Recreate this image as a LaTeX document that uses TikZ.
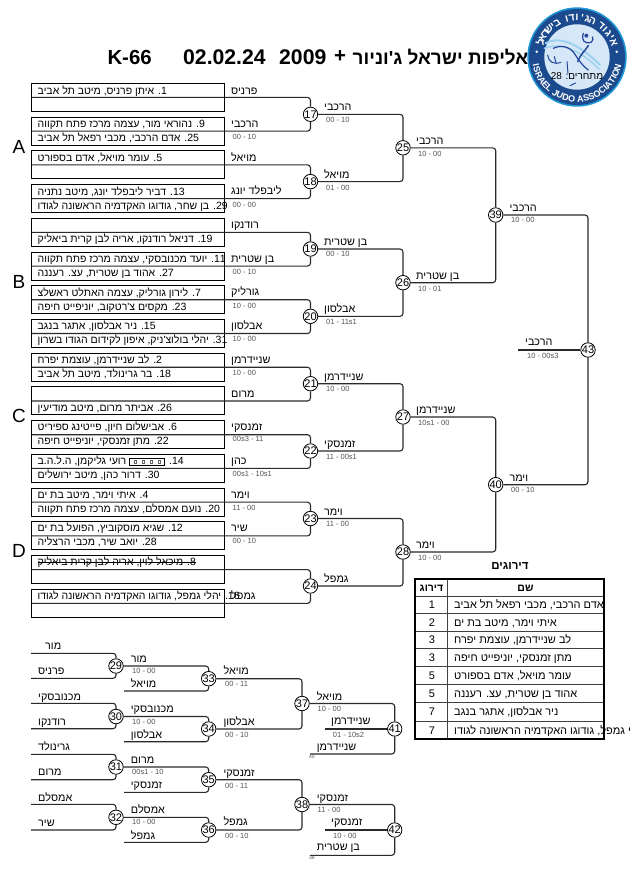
\documentclass[tikz,border=0pt]{standalone}
\usepackage{fontspec}
\setmainfont{Liberation Sans}
\newfontfamily\heb[Script=Hebrew]{Liberation Sans}
\TeXXeTstate=1
\usetikzlibrary{decorations.text}
\definecolor{navy}{HTML}{1B4A8E}
\definecolor{rim}{HTML}{1E96D6}
\definecolor{disc}{HTML}{D6E8F7}
\definecolor{swoosh}{HTML}{9CD2EE}
\definecolor{fig}{HTML}{23459A}
\definecolor{wire}{HTML}{2A2A2A}
\definecolor{scoregray}{HTML}{555555}
\tikzset{
  nm/.style={anchor=west,inner sep=0pt,font=\fontsize{10.8}{11}\selectfont\heb,text height=8pt,text depth=2pt,yshift=-0.6pt},
  seedtxt/.style={nm,font=\fontsize{10.5}{11}\selectfont\heb},
  tabtxt/.style={nm,font=\fontsize{11}{11}\selectfont\heb},
  sc/.style={anchor=west,inner sep=0pt,font=\fontsize{7.5}{8}\selectfont,text=scoregray,text height=6pt,text depth=1pt},
  tiny/.style={anchor=west,inner sep=0pt,font=\fontsize{5}{5}\selectfont,text=scoregray},
  seedbox/.style={draw=black,line width=1pt,fill=none},
  wirel/.style={draw=wire,line width=1.1pt,rounded corners=3pt},
  wireplain/.style={draw=wire,line width=1.3pt},
  mt/.style={circle,draw=black,line width=0.8pt,fill=white,minimum size=14pt,inner sep=0pt,font=\fontsize{11}{11}\selectfont},
  pool/.style={inner sep=0pt,font=\fontsize{19}{19}\selectfont},
  ttl/.style={anchor=west,inner sep=0pt,font=\fontsize{20.4}{21}\selectfont\bfseries},
  ttlnum/.style={ttl,font=\fontsize{21.2}{22}\selectfont\bfseries},
  ttlheb/.style={ttl,font=\fontsize{18.9}{21}\selectfont\bfseries\heb},
  tabrule/.style={draw=black!75,line width=1pt},
  taboutline/.style={draw=black,line width=2pt},
  logoletter/.style={inner sep=0pt,text=white,font=\fontsize{10.5}{10.5}\selectfont\heb\bfseries},
}
\newcommand{\nm}[4]{\node[nm] (#1) at (#2,#3) {#4};}
\newcommand{\sn}[3]{\node[seedtxt] (#1) at (37.5,#2) {#3};}
\newcommand{\tn}[3]{\node[tabtxt] (#1) at (454,#2) {#3};}
\newcommand{\scr}[4]{\node[sc] (#1) at (#2,#3) {#4};}
\begin{document}
\begin{tikzpicture}[x=1pt,y=-1pt]
\useasboundingbox (0,0) rectangle (630,891);
\clip (0,0) rectangle (630,891);
\fill[white] (0,0) rectangle (630,891);

% title
\node[ttl] (t1) at (107.3,57) {K-66};
\node[ttlnum] (t2) at (183,57) {02.02.24};
\node[ttlnum] (t3) at (279,57) {2009};
\node[ttl] (t4) at (334,57) {+};
\node[ttlheb] (t5) at (352.5,57) {\beginR אליפות ישראל ג'וניור\endR};

% logo
\fill[rim] (577,57) circle (49.7);
\fill[navy] (577,57) circle (48);
\fill[disc] (577,57) circle (32.7);
\begin{scope}[shift={(525,5)},x=0.3333pt,y=-0.3333pt]
  \draw[swoosh,line width=2pt,line cap=round] (62,115) .. controls (105,90) and (165,120) .. (225,180);
  \draw[swoosh,line width=1.5pt,line cap=round] (58,130) .. controls (110,110) and (170,140) .. (222,192);
  \draw[fig,line width=1.2pt,line cap=round] (85,130) .. controls (110,118) and (135,125) .. (150,148) .. controls (160,165) and (175,185) .. (190,195);
  \draw[fig,line width=1pt,line cap=round] (68,150) .. controls (70,170) and (85,180) .. (108,172);
  \draw[fig,line width=1pt,line cap=round] (88,155) -- (94,176);
  \draw[fig,line width=1pt,line cap=round] (126,170) -- (129,205);
  \draw[fig,line width=1.2pt,line cap=round] (175,85) .. controls (168,105) and (178,118) .. (198,112) .. controls (205,105) and (205,100) .. (202,96);
  \draw[fig,line width=1.5pt,line cap=round] (190,122) .. controls (178,140) and (165,150) .. (158,170);
  \draw[fig,line width=1pt,line cap=round] (135,242) -- (152,234);
  \fill[fig] (184,92) circle (6);
\end{scope}
% the Hebrew name of the association, letter by letter along the top of the ring
\foreach \ch [count=\i, evaluate=\i as \a using {22+(\i-1)*7.55}] in {א,י,ג,ו,ד,{},ה,ג,',ו,ד,ו,{},ב,י,ש,ר,א,ל} {
  \node[logoletter,rotate=\a-90] (ha\i) at ({577+39.5*cos(\a)},{57-39.5*sin(\a)}) {\ch};
}
\path[decorate,decoration={text along path,text align=center,
  text={|\color{white}\bfseries\fontsize{9}{9}\selectfont|ISRAEL JUDO ASSOCIATION}}]
  (577,57) ++(176:45) arc[start angle=176,end angle=4,radius=45];
\fill[white] (536.7,51.7) circle (1.4);
\fill[white] (616.7,51.7) circle (1.4);
\node[nm,anchor=center,font=\fontsize{10}{10}\selectfont\heb] (entrants) at (577,75.5) {\beginR מתחרים: \beginL 28\endL\endR};

% pool letters
\node[pool] (pa) at (19,146.7) {A};
\node[pool] (pb) at (19,281.7) {B};
\node[pool] (pc) at (19,415.5) {C};
\node[pool] (pd) at (19,550.5) {D};

% seed boxes (top 83.4, pitch 33.73, height 28)
\foreach \i in {0,...,15} {
  \draw[seedbox] (31.5,83.4+33.73*\i) rectangle (224,111.4+33.73*\i);
}
% box text
\sn{s1}{90.5}{\beginR\beginL 1\endL. איתן פרניס, מיטב תל אביב\endR}
\sn{s9}{124}{\beginR\beginL 9\endL. נהוראי מור, עצמה מרכז פתח תקווה\endR}
\sn{s25}{138}{\beginR\beginL 25\endL. אדם הרכבי, מכבי רפאל תל אביב\endR}
\sn{s5}{158}{\beginR\beginL 5\endL. עומר מויאל, אדם בספורט\endR}
\sn{s13}{191.5}{\beginR\beginL 13\endL. דביר ליבפלד יונג, מיטב נתניה\endR}
\sn{s29}{205.5}{\beginR\beginL 29\endL. בן שחר, גודוגו האקדמיה הראשונה לגודו\endR}
\sn{s19}{239}{\beginR\beginL 19\endL. דניאל רודנקו, אריה לבן קרית ביאליק\endR}
\sn{s11}{258.5}{\beginR\beginL 11\endL. יועד מכנובסקי, עצמה מרכז פתח תקווה\endR}
\sn{s27}{272.5}{\beginR\beginL 27\endL. אהוד בן שטרית, עצ. רעננה\endR}
\sn{s7}{292.5}{\beginR\beginL 7\endL. לירון גורליק, עצמה האתלט ראשלצ\endR}
\sn{s23}{306.5}{\beginR\beginL 23\endL. מקסים צ'רטקוב, יוניפייט חיפה\endR}
\sn{s15}{326}{\beginR\beginL 15\endL. ניר אבלסון, אתגר בנגב\endR}
\sn{s31}{340}{\beginR\beginL 31\endL. יהלי בולוצ'ניק, איפון לקידום הגודו בשרון\endR}
\sn{s2}{360}{\beginR\beginL 2\endL. לב שניידרמן, עוצמת יפרח\endR}
\sn{s18}{374}{\beginR\beginL 18\endL. בר גרינולד, מיטב תל אביב\endR}
\sn{s26}{407.5}{\beginR\beginL 26\endL. אביתר מרום, מיטב מודיעין\endR}
\sn{s6}{427}{\beginR\beginL 6\endL. אבישלום חיון, פייטינג ספיריט\endR}
\sn{s22}{441}{\beginR\beginL 22\endL. מתן זמנסקי, יוניפייט חיפה\endR}
\sn{s14a}{460.7}{\beginR רועי גליקמן, ה.ל.ה.ב\endR}
\node[seedtxt] (s14b) at (169,460.7) {\beginR\beginL 14\endL.\endR};
\draw[black,line width=0.6pt] (129.5,458) rectangle (164,465);
\foreach \q in {134,142,150,158} { \draw[black!60,line width=0.4pt] (\q,460.3) rectangle (\q+2,463); }
\sn{s30}{474.7}{\beginR\beginL 30\endL. דרור כהן, מיטב ירושלים\endR}
\sn{s4}{494.7}{\beginR\beginL 4\endL. איתי וימר, מיטב בת ים\endR}
\sn{s20}{508.7}{\beginR\beginL 20\endL. נועם אמסלם, עצמה מרכז פתח תקווה\endR}
\sn{s12}{528}{\beginR\beginL 12\endL. שגיא מוסקוביץ, הפועל בת ים\endR}
\sn{s28}{542}{\beginR\beginL 28\endL. יואב שיר, מכבי הרצליה\endR}
\sn{s8}{561.7}{\beginR\beginL 8\endL. מיכאל לוין, אריה לבן קרית ביאליק\endR}
\draw[black,line width=0.7pt] (s8.west) -- (s8.east);
\sn{s16}{596}{\beginR\beginL 16\endL. יהלי גמפל, גודוגו האקדמיה הראשונה לגודו\endR}

% match circles
\foreach \n/\x/\y in {17/310.5/114.3,18/310.5/181.6,19/310.5/249,20/310.5/316.3,21/310.5/383.7,22/310.5/451,23/310.5/518.5,24/310.5/586,
  25/403/147.8,26/403/282.7,27/403/417,28/403/552,39/495.7/215,40/495.7/484.7,43/588/350,
  29/116/666,30/116/716.5,31/116/767,32/116/817.3,33/208.7/678.7,34/208.7/729,35/208.7/779.7,36/208.7/830,
  37/302/703.5,38/302/804.5,41/394.7/729,42/394.7/830} {
  \node[mt] (m\n) at (\x,\y) {\n};
}

% free line ends at the seed boxes
\foreach \i [evaluate=\i as \yy using {97.4+33.73*(\i-1)}] in {1,...,16} {
  \coordinate (b\i) at (31.5,\yy);
}
\draw[wirel] (b1) -| (m17.north); \draw[wirel] (b2) -| (m17.south);
\draw[wirel] (b3) -| (m18.north); \draw[wirel] (b4) -| (m18.south);
\draw[wirel] (b5) -| (m19.north); \draw[wirel] (b6) -| (m19.south);
\draw[wirel] (b7) -| (m20.north); \draw[wirel] (b8) -| (m20.south);
\draw[wirel] (b9) -| (m21.north); \draw[wirel] (b10) -| (m21.south);
\draw[wirel] (b11) -| (m22.north); \draw[wirel] (b12) -| (m22.south);
\draw[wirel] (b13) -| (m23.north); \draw[wirel] (b14) -| (m23.south);
\draw[wirel] (b15) -| (m24.north); \draw[wirel] (b16) -| (m24.south);
\draw[wirel] (m17.east) -| (m25.north); \draw[wirel] (m18.east) -| (m25.south);
\draw[wirel] (m19.east) -| (m26.north); \draw[wirel] (m20.east) -| (m26.south);
\draw[wirel] (m21.east) -| (m27.north); \draw[wirel] (m22.east) -| (m27.south);
\draw[wirel] (m23.east) -| (m28.north); \draw[wirel] (m24.east) -| (m28.south);
\draw[wirel] (m25.east) -| (m39.north); \draw[wirel] (m26.east) -| (m39.south);
\draw[wirel] (m27.east) -| (m40.north); \draw[wirel] (m28.east) -| (m40.south);
\draw[wirel] (m39.east) -| (m43.north); \draw[wirel] (m40.east) -| (m43.south);
\coordinate (fin) at (518.3,350);
\draw[wireplain] (fin) -- (m43.west);

% repechage wiring
\foreach \c/\y in {ra/653.3,rb/678.3,rc/703.3,rd/728.7,re/754.3,rf/779.7,rg/804.3,rh/830} { \coordinate (\c) at (31,\y); }
\draw[wirel] (ra) -| (m29.north); \draw[wirel] (rb) -| (m29.south);
\draw[wirel] (rc) -| (m30.north); \draw[wirel] (rd) -| (m30.south);
\draw[wirel] (re) -| (m31.north); \draw[wirel] (rf) -| (m31.south);
\draw[wirel] (rg) -| (m32.north); \draw[wirel] (rh) -| (m32.south);
\foreach \c/\y in {qa/691,qb/741.7,qc/792.3,qd/842.3} { \coordinate (\c) at (124,\y); }
\draw[wirel] (m29.east) -| (m33.north); \draw[wirel] (qa) -| (m33.south);
\draw[wirel] (m30.east) -| (m34.north); \draw[wirel] (qb) -| (m34.south);
\draw[wirel] (m31.east) -| (m35.north); \draw[wirel] (qc) -| (m35.south);
\draw[wirel] (m32.east) -| (m36.north); \draw[wirel] (qd) -| (m36.south);
\draw[wirel] (m33.east) -| (m37.north); \draw[wirel] (m34.east) -| (m37.south);
\draw[wirel] (m35.east) -| (m38.north); \draw[wirel] (m36.east) -| (m38.south);
\coordinate (pa1) at (325,729); \coordinate (pa2) at (310,754);
\coordinate (pb1) at (325,830); \coordinate (pb2) at (310,855.3);
\draw[wirel] (m37.east) -| (m41.north); \draw[wireplain] (pa1) -- (m41.west); \draw[wirel] (pa2) -| (m41.south);
\draw[wirel] (m38.east) -| (m42.north); \draw[wireplain] (pb1) -- (m42.west); \draw[wirel] (pb2) -| (m42.south);

% first-round names and scores
\nm{n1}{231}{90.5}{\beginR פרניס\endR}
\nm{n2}{231}{123.7}{\beginR הרכבי\endR}
\scr{c17}{232.5}{136.7}{00 - 10}
\nm{n3}{231}{157.7}{\beginR מויאל\endR}
\nm{n4}{231}{191}{\beginR ליבפלד יונג\endR}
\scr{c18}{232.5}{204.7}{00 - 00}
\nm{n5}{231}{225}{\beginR רודנקו\endR}
\nm{n6}{231}{258.5}{\beginR בן שטרית\endR}
\scr{c19}{232.5}{272}{00 - 10}
\nm{n7}{231}{292}{\beginR גורליק\endR}
\scr{c20a}{232.5}{305.7}{10 - 00}
\nm{n8}{231}{326}{\beginR אבלסון\endR}
\scr{c20b}{232.5}{339.3}{10 - 00}
\nm{n9}{231}{359.7}{\beginR שניידרמן\endR}
\scr{c21}{232.5}{372.7}{10 - 00}
\nm{n10}{231}{393.7}{\beginR מרום\endR}
\nm{n11}{231}{426.7}{\beginR זמנסקי\endR}
\scr{c22a}{232.5}{439.3}{00s3 - 11}
\nm{n12}{231}{460.7}{\beginR כהן\endR}
\scr{c22b}{232.5}{474}{00s1 - 10s1}
\nm{n13}{231}{494.7}{\beginR וימר\endR}
\scr{c23a}{232.5}{507.7}{11 - 00}
\nm{n14}{231}{527.7}{\beginR שיר\endR}
\scr{c23b}{232.5}{541}{00 - 10}
\nm{n16}{231}{596}{\beginR גמפל\endR}

% second column
\nm{p1}{324}{106.7}{\beginR הרכבי\endR}
\scr{d1}{326}{119.7}{00 - 10}
\nm{p2}{324}{174.7}{\beginR מויאל\endR}
\scr{d2}{326}{187.7}{01 - 00}
\nm{p3}{324}{241.7}{\beginR בן שטרית\endR}
\scr{d3}{326}{254.3}{00 - 10}
\nm{p4}{324}{308.7}{\beginR אבלסון\endR}
\scr{d4}{326}{321.7}{01 - 11s1}
\nm{p5}{324}{376.7}{\beginR שניידרמן\endR}
\scr{d5}{326}{389.3}{10 - 00}
\nm{p6}{324}{444}{\beginR זמנסקי\endR}
\scr{d6}{326}{456.7}{11 - 00s1}
\nm{p7}{324}{511.7}{\beginR וימר\endR}
\scr{d7}{326}{524.3}{11 - 00}
\nm{p8}{324}{579}{\beginR גמפל\endR}

% third column
\nm{u1}{416}{141}{\beginR הרכבי\endR}
\scr{e1}{418}{153.7}{10 - 00}
\nm{u2}{416}{275.7}{\beginR בן שטרית\endR}
\scr{e2}{418}{288.7}{10 - 01}
\nm{u3}{416}{409.7}{\beginR שניידרמן\endR}
\scr{e3}{418}{422.7}{10s1 - 00}
\nm{u4}{416}{544.7}{\beginR וימר\endR}
\scr{e4}{418}{557.7}{10 - 00}

% fourth column and final
\nm{v1}{509.3}{207.7}{\beginR הרכבי\endR}
\scr{f1}{511}{220.3}{10 - 00}
\nm{v2}{509.3}{477.7}{\beginR וימר\endR}
\scr{f2}{511}{490.3}{00 - 10}
\nm{w1}{525}{341.7}{\beginR הרכבי\endR}
\scr{g1}{527}{355.7}{10 - 00s3}

% repechage labels
\nm{ra1}{45}{645.7}{\beginR מור\endR}
\nm{ra2}{38}{670.7}{\beginR פרניס\endR}
\nm{ra3}{38}{696.7}{\beginR מכנובסקי\endR}
\nm{ra4}{38}{722}{\beginR רודנקו\endR}
\nm{ra5}{38}{747}{\beginR גרינולד\endR}
\nm{ra6}{38}{772.3}{\beginR מרום\endR}
\nm{ra7}{38}{797.7}{\beginR אמסלם\endR}
\nm{ra8}{38}{822.7}{\beginR שיר\endR}
\nm{rb1}{130.7}{659}{\beginR מור\endR}
\scr{rs1}{132}{671.3}{10 - 00}
\nm{rb2}{130.7}{684}{\beginR מויאל\endR}
\nm{rb3}{130.7}{709}{\beginR מכנובסקי\endR}
\scr{rs2}{132}{721.7}{10 - 00}
\nm{rb4}{130.7}{735}{\beginR אבלסון\endR}
\nm{rb5}{130.7}{759.7}{\beginR מרום\endR}
\scr{rs3}{132}{772}{00s1 - 10}
\nm{rb6}{130.7}{784.7}{\beginR זמנסקי\endR}
\nm{rb7}{130.7}{810}{\beginR אמסלם\endR}
\scr{rs4}{132}{822.3}{10 - 00}
\nm{rb8}{130.7}{836}{\beginR גמפל\endR}
\nm{rc1}{223.3}{670.7}{\beginR מויאל\endR}
\scr{rt1}{225}{683.7}{00 - 11}
\nm{rc2}{223.3}{721.7}{\beginR אבלסון\endR}
\scr{rt2}{225}{734.7}{00 - 10}
\nm{rc3}{223.3}{772.7}{\beginR זמנסקי\endR}
\scr{rt3}{225}{785.7}{00 - 11}
\nm{rc4}{223.3}{822.3}{\beginR גמפל\endR}
\scr{rt4}{225}{835.7}{00 - 10}
\nm{rd1}{316.7}{696.7}{\beginR מויאל\endR}
\scr{ru1}{317.5}{709.3}{10 - 00}
\nm{rd2}{331}{721}{\beginR שניידרמן\endR}
\scr{ru2}{332.7}{734.7}{01 - 10s2}
\nm{rd3}{316.7}{747}{\beginR שניידרמן\endR}
\node[tiny] (x40) at (309,756.7) {40};
\nm{rd4}{316.7}{798}{\beginR זמנסקי\endR}
\scr{ru3}{317.5}{810.3}{11 - 00}
\nm{rd5}{331}{822}{\beginR זמנסקי\endR}
\scr{ru4}{333}{835.7}{10 - 00}
\nm{rd6}{316.7}{847.3}{\beginR בן שטרית\endR}
\node[tiny] (x39) at (309,857.3) {39};

% ranking table
\node[nm,anchor=center,font=\fontsize{11.5}{11.5}\selectfont\bfseries\heb] (rankttl) at (510,566) {\beginR דירוגים\endR};
\foreach \y in {613.3,631,648.3,666.3,684.3,702.3,721.3} { \draw[tabrule] (415.3,\y) -- (604,\y); }
\draw[tabrule] (415.3,596) -- (604,596);
\draw[tabrule] (447.3,579.3) -- (447.3,739.3);
\draw[taboutline] (415.3,579.3) rectangle (604,739.3);
\node[nm,anchor=center,font=\fontsize{10.5}{10.5}\selectfont\bfseries\heb] (hr) at (431.5,588) {\beginR דירוג\endR};
\node[nm,anchor=center,font=\fontsize{10.5}{10.5}\selectfont\bfseries\heb] (hn) at (525.5,588) {\beginR שם\endR};
\foreach \r/\v/\y in {r1/1/605,r2/2/622.5,r3/3/640,r4/3/657.5,r5/5/675.5,r6/5/693.5,r7/7/711.5,r8/7/730.5} {
  \node[tabtxt,anchor=center] (\r) at (432,\y) {\v};
}
\tn{k1}{605}{\beginR אדם הרכבי, מכבי רפאל תל אביב\endR}
\tn{k2}{622.5}{\beginR איתי וימר, מיטב בת ים\endR}
\tn{k3}{640}{\beginR לב שניידרמן, עוצמת יפרח\endR}
\tn{k4}{657.5}{\beginR מתן זמנסקי, יוניפייט חיפה\endR}
\tn{k5}{675.5}{\beginR עומר מויאל, אדם בספורט\endR}
\tn{k6}{693.5}{\beginR אהוד בן שטרית, עצ. רעננה\endR}
\tn{k7}{711.5}{\beginR ניר אבלסון, אתגר בנגב\endR}
\tn{k8}{730.5}{\beginR יהלי גמפל, גודוגו האקדמיה הראשונה לגודו\endR}
\end{tikzpicture}
\end{document}
